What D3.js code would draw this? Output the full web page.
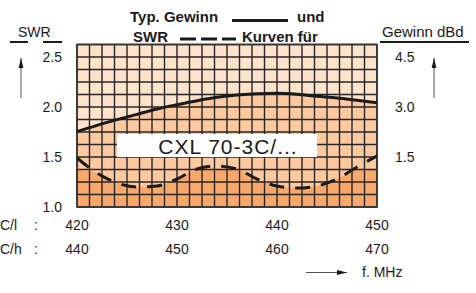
<!DOCTYPE html>
<html>
<head>
<meta charset="utf-8">
<script src="https://cdn.jsdelivr.net/npm/d3@7"></script>
<style>
    html, body { margin: 0; padding: 0; background: #fff; }
    svg { display: block; font-family: "Liberation Sans", Arial, Helvetica, sans-serif; }
</style>
</head>
<body>
<svg id="chart" width="476" height="293"></svg>
<script>
// frequency points (MHz, CXL 70-3C/l)
var freqs = [420, 422, 424, 426, 428, 430, 432, 434, 436, 438, 440, 442, 444, 446, 448, 450];
// typ. gain, dBd
var gainVals = [2.26, 2.45, 2.62, 2.78, 2.94, 3.07, 3.19, 3.29, 3.36, 3.40, 3.41, 3.38, 3.32, 3.27, 3.20, 3.13];
// SWR
var swrVals = [1.49, 1.34, 1.24, 1.20, 1.21, 1.28, 1.38, 1.41, 1.38, 1.28, 1.21, 1.19, 1.21, 1.28, 1.40, 1.51];

var swrTicks = [1.0, 1.5, 2.0, 2.5];
var gainTicks = [1.5, 3.0, 4.5];
var freqLow = [420, 430, 440, 450];
var freqHigh = [440, 450, 460, 470];

var svg = d3.select('#chart');

var x = d3.scaleLinear().domain([420, 450]).range([77, 377]);
var yS = d3.scaleLinear().domain([1, 2.625]).range([207, 44.5]);
var yG = d3.scaleLinear().domain([0, 4.875]).range([207, 44.5]);

var data = freqs.map(function (f, i) {
    return {f: f, g: gainVals[i], s: swrVals[i]};
});

// background bands
svg.append('rect')
    .attr('x', x(420)).attr('y', yS(2.625))
    .attr('width', x(450) - x(420)).attr('height', yS(1) - yS(2.625))
    .attr('fill', '#fde2cc');

svg.append('path')
    .datum(data)
    .attr('fill', '#fcc9a0')
    .attr('d', d3.area().curve(d3.curveMonotoneX)
        .x(function (d) { return x(d.f); })
        .y0(yS(1))
        .y1(function (d) { return yG(d.g); }));

svg.append('path')
    .datum(data)
    .attr('fill', '#f9a86b')
    .attr('d', d3.area().curve(d3.curveMonotoneX)
        .x(function (d) { return x(d.f); })
        .y0(yS(1))
        .y1(function (d) { return Math.max(yS(d.s), yS(1.37)); }));

// grid
var grid = svg.append('g').attr('stroke', '#262626').attr('stroke-width', 1.4);
d3.range(420, 450.01, 1.25).forEach(function (f) {
    grid.append('line').attr('x1', x(f)).attr('x2', x(f)).attr('y1', yS(1)).attr('y2', yS(2.625));
});
d3.range(1, 2.6251, 0.125).forEach(function (s) {
    grid.append('line').attr('x1', x(420)).attr('x2', x(450)).attr('y1', yS(s)).attr('y2', yS(s));
});
svg.append('rect')
    .attr('x', x(420)).attr('y', yS(2.625))
    .attr('width', x(450) - x(420)).attr('height', yS(1) - yS(2.625))
    .attr('fill', 'none').attr('stroke', '#333').attr('stroke-width', 1.6);

// label box
svg.append('rect')
    .attr('x', x(424)).attr('y', yS(1.73))
    .attr('width', x(444) - x(424)).attr('height', yS(1.5) - yS(1.73))
    .attr('fill', '#fff');
svg.append('text')
    .attr('x', x(435.1)).attr('y', 153.5)
    .attr('text-anchor', 'middle')
    .attr('font-size', 21).attr('letter-spacing', 1)
    .attr('fill', '#1a1a1a')
    .text('CXL 70-3C/...');

// curves
svg.append('path')
    .datum(data)
    .attr('fill', 'none').attr('stroke', '#1a1a1a').attr('stroke-width', 3)
    .attr('d', d3.line().curve(d3.curveMonotoneX)
        .x(function (d) { return x(d.f); })
        .y(function (d) { return yG(d.g); }));

svg.append('path')
    .datum(data)
    .attr('fill', 'none').attr('stroke', '#1a1a1a').attr('stroke-width', 3)
    .attr('stroke-dasharray', '15,11')
    .attr('d', d3.line().curve(d3.curveMonotoneX)
        .x(function (d) { return x(d.f); })
        .y(function (d) { return yS(d.s); }));

// axis labels
svg.selectAll('.swrTick').data(swrTicks).enter().append('text')
    .attr('x', 62).attr('y', function (d) { return yS(d) + 5; })
    .attr('text-anchor', 'end').attr('font-size', 14).attr('fill', '#1a1a1a')
    .text(function (d) { return d.toFixed(1); });

svg.selectAll('.gainTick').data(gainTicks).enter().append('text')
    .attr('x', 395).attr('y', function (d) { return yG(d) + 5; })
    .attr('font-size', 14).attr('fill', '#1a1a1a')
    .text(function (d) { return d.toFixed(1); });

svg.selectAll('.fLow').data(freqLow).enter().append('text')
    .attr('x', function (d, i) { return x(freqLow[0] + i * 10); }).attr('y', 230)
    .attr('text-anchor', 'middle').attr('font-size', 14).attr('fill', '#1a1a1a')
    .text(function (d) { return d; });

svg.selectAll('.fHigh').data(freqHigh).enter().append('text')
    .attr('x', function (d, i) { return x(freqLow[0] + i * 10); }).attr('y', 254)
    .attr('text-anchor', 'middle').attr('font-size', 14).attr('fill', '#1a1a1a')
    .text(function (d) { return d; });

svg.append('text').attr('x', 0).attr('y', 230).attr('font-size', 14).attr('fill', '#1a1a1a').text('C/l');
svg.append('text').attr('x', 0).attr('y', 254).attr('font-size', 14).attr('fill', '#1a1a1a').text('C/h');
svg.append('text').attr('x', 34).attr('y', 230).attr('font-size', 14).attr('fill', '#1a1a1a').text(':');
svg.append('text').attr('x', 34).attr('y', 254).attr('font-size', 14).attr('fill', '#1a1a1a').text(':');

// titles
svg.append('text').attr('x', 18).attr('y', 37).attr('font-size', 14).attr('fill', '#1a1a1a').text('SWR');
svg.append('line').attr('x1', 10).attr('x2', 28).attr('y1', 42).attr('y2', 42).attr('stroke', '#1a1a1a').attr('stroke-width', 2);
svg.append('line').attr('x1', 43).attr('x2', 62).attr('y1', 42).attr('y2', 42).attr('stroke', '#1a1a1a').attr('stroke-width', 2);

svg.append('text').attr('x', 382).attr('y', 37).attr('font-size', 15).attr('fill', '#1a1a1a').text('Gewinn dBd');
svg.append('line').attr('x1', 380).attr('x2', 469).attr('y1', 42).attr('y2', 42).attr('stroke', '#1a1a1a').attr('stroke-width', 2);

svg.append('text').attr('x', 130).attr('y', 22).attr('font-size', 15).attr('font-weight', 'bold').attr('fill', '#1a1a1a').text('Typ. Gewinn');
svg.append('line').attr('x1', 232).attr('x2', 288).attr('y1', 20.5).attr('y2', 20.5).attr('stroke', '#1a1a1a').attr('stroke-width', 3);
svg.append('text').attr('x', 297).attr('y', 22).attr('font-size', 15).attr('font-weight', 'bold').attr('fill', '#1a1a1a').text('und');

svg.append('text').attr('x', 133).attr('y', 42).attr('font-size', 15).attr('font-weight', 'bold').attr('fill', '#1a1a1a').text('SWR');
svg.append('line').attr('x1', 180).attr('x2', 236).attr('y1', 39).attr('y2', 39).attr('stroke', '#1a1a1a').attr('stroke-width', 3)
    .attr('stroke-dasharray', '16,5');
svg.append('text').attr('x', 242).attr('y', 42).attr('font-size', 15).attr('font-weight', 'bold').attr('fill', '#1a1a1a').text('Kurven für');

// arrows
var defs = svg.append('defs');
defs.append('marker').attr('id', 'head').attr('viewBox', '0 0 10 10')
    .attr('refX', 10).attr('refY', 5).attr('markerWidth', 10).attr('markerHeight', 10)
    .attr('markerUnits', 'userSpaceOnUse').attr('orient', 'auto')
    .append('path').attr('d', 'M0,2.6 L10,5 L0,7.4 Z').attr('fill', '#1a1a1a');

function arrow(x1, y1, x2, y2) {
    svg.append('line').attr('x1', x1).attr('y1', y1).attr('x2', x2).attr('y2', y2)
        .attr('stroke', '#555').attr('stroke-width', 1)
        .attr('marker-end', 'url(#head)');
}
arrow(21, 98, 21, 58);
arrow(434, 98, 434, 58);
arrow(306, 272.5, 347, 272.5);

svg.append('text').attr('x', 362).attr('y', 277).attr('font-size', 14).attr('fill', '#1a1a1a').text('f. MHz');
</script>
</body>
</html>
